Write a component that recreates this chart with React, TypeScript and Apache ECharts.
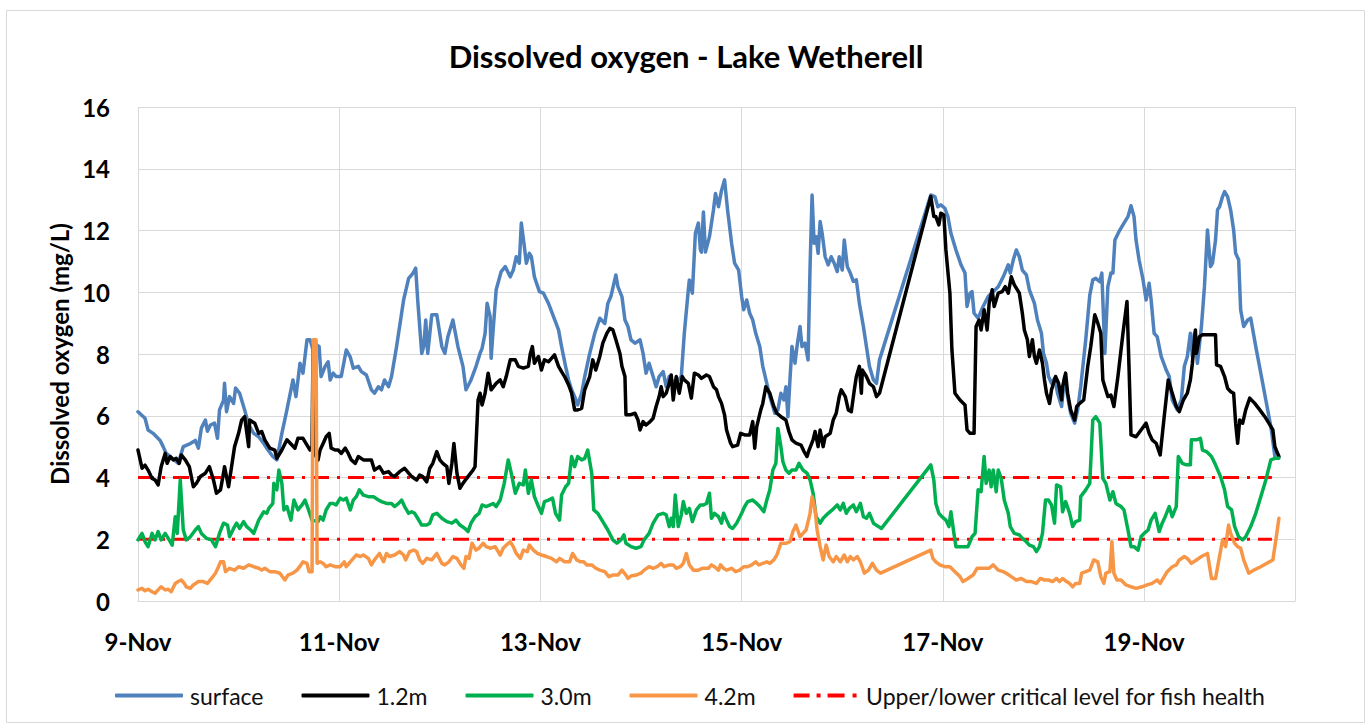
import React, { useEffect, useRef } from "react";
import * as echarts from "echarts";

// Day offsets from 9-Nov (0 = 9-Nov 00:00), values in mg/L
const surface: [number, number][] = [
  [0.00,6.13],[0.07,5.92],[0.10,5.54],[0.15,5.43],[0.22,5.2],[0.25,5.0],[0.28,4.78],[0.32,4.68],[0.40,4.46],[0.45,5.0],[0.52,5.1],[0.57,5.2],[0.60,4.95],[0.63,5.6],[0.67,5.86],[0.69,5.5],[0.72,5.7],[0.76,5.76],[0.79,5.27],[0.81,6.19],[0.85,6.5],[0.86,7.05],[0.88,6.13],[0.91,6.62],[0.95,6.4],[0.97,6.9],[1.01,6.73],[1.06,6.19],[1.10,5.7],[1.15,5.43],[1.20,5.32],[1.25,5.1],[1.29,4.9],[1.34,4.68],[1.38,4.57],[1.43,5.43],[1.48,6.19],[1.54,7.16],[1.57,6.62],[1.61,7.7],[1.64,7.38],[1.68,8.46],[1.71,8.46],[1.74,8.13],[1.77,8.3],[1.80,8.24],
  [1.82,7.27],[1.86,7.6],[1.89,7.75],[1.91,7.16],[1.94,7.38],[1.97,7.27],[2.02,7.27],[2.07,8.13],[2.11,7.9],[2.14,7.54],[2.19,7.6],[2.22,7.43],[2.27,7.32],[2.32,6.84],[2.35,6.73],[2.39,6.94],[2.42,6.84],[2.45,7.16],[2.49,6.94],[2.52,7.27],[2.57,8.24],[2.64,9.75],[2.69,10.45],[2.73,10.6],[2.76,10.78],[2.78,9.75],[2.82,8.02],[2.84,8.24],[2.86,9.1],[2.88,8.02],[2.92,9.27],[2.97,9.27],[3.02,8.24],[3.05,8.02],[3.08,8.56],[3.13,9.1],[3.18,8.24],[3.23,7.6],[3.26,6.84],[3.31,7.16],[3.36,7.6],[3.40,8.02],[3.42,8.18],[3.45,8.67],[3.47,9.64],[3.50,9.21],[3.51,7.86],[3.53,8.78],[3.56,10.08],[3.61,10.67],[3.65,10.83],[3.70,10.5],
  [3.73,10.72],[3.76,11.15],[3.79,10.94],[3.81,12.24],[3.84,11.48],[3.86,10.94],[3.89,11.26],[3.91,11.15],[3.94,10.5],[3.99,10.02],[4.03,9.97],[4.08,9.64],[4.13,9.21],[4.18,8.78],[4.21,8.24],[4.25,7.6],[4.28,7.16],[4.31,6.84],[4.34,6.62],[4.37,6.35],[4.41,6.73],[4.44,7.27],[4.49,8.02],[4.54,8.67],[4.59,9.16],[4.64,8.99],[4.67,9.64],[4.70,9.86],[4.75,10.56],[4.77,10.18],[4.81,9.86],[4.84,9.1],[4.87,8.89],[4.90,8.46],[4.94,8.35],[4.99,8.46],[5.02,8.02],[5.05,7.38],[5.08,7.7],[5.12,7.27],[5.15,6.94],[5.18,7.27],[5.22,7.43],[5.25,6.94],[5.28,7.27],[5.33,7.05],[5.37,7.16],[5.40,7.27],[5.43,8.67],[5.47,10.08],[5.48,10.4],[5.51,9.97],[5.54,11.91],[5.57,12.24],[5.59,11.37],
  [5.60,11.3],[5.62,12.6],[5.64,11.3],[5.68,11.8],[5.72,12.67],[5.74,13.2],[5.77,12.77],[5.80,13.3],[5.83,13.64],[5.86,12.67],[5.90,11.59],[5.93,10.94],[5.97,10.72],[6.00,9.86],[6.02,9.43],[6.05,9.75],[6.08,9.32],[6.11,9.1],[6.14,8.67],[6.18,8.24],[6.21,7.6],[6.25,7.05],[6.28,6.62],[6.33,6.08],[6.36,6.19],[6.39,6.73],[6.42,6.51],[6.44,6.94],[6.46,5.97],[6.48,7.16],[6.50,8.24],[6.53,7.7],[6.55,8.24],[6.58,8.89],[6.60,8.24],[6.63,8.35],[6.66,7.81],[6.68,10.83],[6.70,13.15],[6.72,11.59],[6.74,11.8],[6.76,11.26],[6.78,12.29],[6.80,11.91],[6.83,11.15],[6.86,10.89],[6.89,11.15],[6.92,10.94],[6.95,10.67],[6.97,11.15],[7.00,10.72],[7.02,11.69],[7.05,10.83],[7.08,10.62],[7.11,10.35],[7.14,10.4],[7.17,9.64],[7.21,8.89],[7.24,8.24],[7.27,7.6],[7.31,7.16],[7.34,7.05],[7.37,7.81],
  [7.88,13.15],[7.92,13.1],[7.95,12.77],[7.98,12.83],[8.02,12.72],[8.05,12.45],[8.08,11.91],[8.13,11.37],[8.18,10.89],[8.22,10.62],[8.24,9.54],[8.27,9.97],[8.29,10.02],[8.31,9.32],[8.35,9.16],[8.40,9.54],[8.45,9.86],[8.50,10.02],[8.55,10.18],[8.60,10.5],[8.65,10.89],[8.67,10.62],[8.70,11.05],[8.73,11.37],[8.76,11.15],[8.79,10.72],[8.83,10.56],[8.86,10.08],[8.91,9.64],[8.94,9.1],[8.98,8.67],[9.00,8.02],[9.03,7.7],[9.05,7.27],[9.08,7.05],[9.11,7.21],[9.14,6.73],[9.18,6.3],[9.21,7.27],[9.24,6.62],[9.27,6.08],[9.31,5.76],[9.34,6.19],[9.37,6.94],[9.42,8.46],[9.46,9.9],[9.49,10.4],[9.52,10.45],[9.56,10.34],[9.58,10.62],[9.61,8.02],[9.64,10.18],[9.67,10.62],[9.69,10.62],[9.71,11.69],[9.75,11.96],[9.80,12.24],[9.84,12.45],[9.87,12.8],[9.90,12.45],[9.92,11.69],[9.95,11.05],[9.99,10.4],[10.02,9.75],[10.05,10.29],[10.07,9.75],[10.10,8.67],[10.13,8.56],[10.17,7.92],[10.22,7.48],[10.25,7.27],[10.28,6.51],[10.33,6.19],[10.37,6.51],[10.40,7.6],[10.43,7.92],[10.46,8.67],[10.48,7.92],[10.50,8.67],[10.53,7.7],[10.57,8.89],[10.60,10.18],[10.63,12.02],[10.66,10.83],[10.68,10.94],[10.71,11.69],[10.73,12.67],[10.75,12.77],[10.78,13.1],[10.80,13.26],[10.83,13.1],[10.86,12.67],[10.89,12.02],[10.91,11.26],[10.94,11.05],[10.96,9.43],[10.99,8.89],[11.03,9.1],[11.06,9.16],[11.11,8.24],[11.16,7.38],[11.21,6.51],[11.26,5.65],[11.30,4.68]
];

const depth12: [number, number][] = [
  [0.00,4.89],[0.04,4.3],[0.07,4.4],[0.10,4.24],[0.14,3.97],[0.17,3.92],[0.20,3.76],[0.23,4.35],[0.27,4.78],[0.29,4.46],[0.32,4.68],[0.35,4.57],[0.38,4.62],[0.41,4.46],[0.43,4.73],[0.47,4.57],[0.51,4.35],[0.55,3.7],[0.58,3.81],[0.62,4.03],[0.67,4.14],[0.71,4.35],[0.75,3.92],[0.78,3.49],[0.82,3.6],[0.85,4.14],[0.86,4.35],[0.90,3.7],[0.93,4.35],[0.96,5.0],[1.00,5.43],[1.03,5.86],[1.06,5.97],[1.10,5.0],[1.11,5.86],[1.16,5.76],[1.20,5.43],[1.23,5.49],[1.26,5.22],[1.31,4.95],[1.36,4.89],[1.38,4.62],[1.43,4.89],[1.48,5.22],[1.53,5.05],[1.56,4.95],[1.59,5.27],[1.64,5.27],[1.68,5.05],[1.71,4.89],[1.73,5.0],[1.74,8.3],[1.75,4.8],[1.79,4.57],
  [1.81,4.89],[1.84,5.1],[1.87,5.32],[1.90,5.43],[1.92,4.95],[1.96,4.89],[1.99,4.89],[2.02,4.78],[2.06,4.95],[2.09,4.78],[2.12,4.57],[2.16,4.46],[2.19,4.68],[2.24,4.57],[2.29,4.57],[2.32,4.57],[2.35,4.24],[2.40,4.35],[2.44,4.14],[2.49,4.19],[2.52,4.08],[2.55,4.03],[2.60,4.19],[2.65,4.3],[2.69,4.14],[2.72,4.03],[2.77,3.92],[2.80,4.08],[2.83,4.03],[2.87,3.86],[2.90,4.3],[2.93,4.46],[2.97,4.84],[3.00,4.57],[3.03,4.46],[3.07,4.35],[3.09,3.81],[3.12,4.46],[3.14,5.1],[3.17,4.14],[3.20,3.65],[3.23,3.81],[3.28,4.03],[3.33,4.24],[3.35,4.35],[3.38,6.51],[3.40,6.73],[3.42,6.35],[3.45,6.73],[3.48,7.38],[3.51,6.84],[3.56,7.05],[3.60,7.16],[3.63,6.94],[3.66,7.27],[3.70,7.81],
  [3.75,7.81],[3.78,7.6],[3.83,7.54],[3.88,7.6],[3.90,8.02],[3.92,8.24],[3.94,7.7],[3.98,7.92],[4.01,7.48],[4.04,7.81],[4.08,7.75],[4.11,7.86],[4.14,7.97],[4.18,7.6],[4.21,7.43],[4.24,7.27],[4.28,7.0],[4.31,6.73],[4.34,6.19],[4.37,6.19],[4.41,6.24],[4.44,6.84],[4.49,7.27],[4.52,7.81],[4.55,7.48],[4.59,7.92],[4.62,8.35],[4.66,8.67],[4.69,8.83],[4.72,8.78],[4.75,8.46],[4.79,8.02],[4.81,7.6],[4.84,7.27],[4.85,6.03],[4.89,6.03],[4.94,6.08],[4.97,5.86],[4.99,5.54],[5.02,5.81],[5.05,5.7],[5.09,5.81],[5.12,5.92],[5.15,6.3],[5.18,6.62],[5.20,6.94],[5.22,6.62],[5.25,6.73],[5.28,7.05],[5.30,7.32],[5.32,6.51],[5.35,7.27],[5.38,6.73],[5.41,7.27],[5.43,7.16],[5.47,7.05],[5.50,6.57],[5.53,7.38],[5.57,7.32],[5.60,7.21],
  [5.65,7.32],[5.68,7.27],[5.72,6.94],[5.75,6.84],[5.77,6.62],[5.80,6.4],[5.83,6.03],[5.85,5.54],[5.89,5.11],[5.91,5.0],[5.96,5.05],[5.99,5.43],[6.03,5.38],[6.08,5.38],[6.11,5.81],[6.13,4.95],[6.15,5.65],[6.19,6.19],[6.21,6.4],[6.24,6.94],[6.28,6.73],[6.32,6.3],[6.35,6.08],[6.39,5.97],[6.44,5.86],[6.47,5.49],[6.50,5.22],[6.54,5.11],[6.59,5.05],[6.62,4.84],[6.65,4.68],[6.67,4.89],[6.71,5.22],[6.73,5.49],[6.76,5.0],[6.78,5.54],[6.81,5.0],[6.83,5.32],[6.88,5.43],[6.91,5.86],[6.94,6.08],[6.97,6.62],[6.99,6.84],[7.03,6.62],[7.06,6.19],[7.09,6.13],[7.12,6.84],[7.14,7.27],[7.17,7.6],[7.19,6.73],[7.20,7.48],[7.24,7.27],[7.27,7.05],[7.31,6.94],[7.34,6.62],[7.37,6.73],
  [7.88,13.1],[7.91,12.45],[7.93,12.45],[7.96,12.18],[7.98,12.56],[8.01,12.5],[8.03,11.37],[8.07,9.97],[8.09,8.13],[8.12,6.73],[8.17,6.51],[8.22,6.35],[8.24,5.54],[8.27,5.43],[8.31,5.43],[8.33,8.89],[8.36,9.1],[8.38,8.78],[8.41,9.43],[8.44,8.78],[8.46,9.64],[8.49,10.08],[8.51,9.54],[8.55,9.97],[8.59,10.02],[8.62,10.18],[8.65,9.97],[8.68,10.5],[8.71,10.24],[8.76,9.97],[8.79,9.32],[8.81,8.78],[8.84,8.46],[8.86,7.92],[8.89,8.46],[8.91,7.92],[8.93,7.7],[8.96,8.13],[8.99,7.7],[9.01,7.16],[9.03,6.73],[9.06,6.4],[9.08,6.84],[9.12,7.27],[9.15,7.05],[9.18,6.51],[9.19,6.94],[9.22,7.38],[9.24,6.73],[9.27,6.19],[9.31,5.86],[9.33,6.3],[9.36,6.4],
  [9.40,6.51],[9.44,7.6],[9.47,8.24],[9.51,9.27],[9.54,9.0],[9.57,8.67],[9.59,7.16],[9.61,6.94],[9.64,6.62],[9.67,6.67],[9.70,6.3],[9.74,7.27],[9.79,8.67],[9.83,9.7],[9.85,7.6],[9.87,5.38],[9.92,5.32],[9.97,5.54],[10.02,5.76],[10.05,5.43],[10.08,5.22],[10.12,5.11],[10.16,4.73],[10.20,5.97],[10.24,7.16],[10.28,6.73],[10.32,6.3],[10.35,6.13],[10.39,6.51],[10.43,6.73],[10.46,7.16],[10.48,7.7],[10.51,8.78],[10.52,8.02],[10.55,8.56],[10.58,8.62],[10.63,8.62],[10.68,8.62],[10.71,8.62],[10.72,7.65],[10.76,7.6],[10.80,7.27],[10.83,6.89],[10.86,6.78],[10.89,6.73],[10.91,5.76],[10.93,5.11],[10.95,5.86],[10.98,5.76],[11.01,6.19],[11.05,6.57],[11.10,6.4],[11.15,6.19],[11.20,5.97],[11.24,5.76],[11.28,5.54],[11.30,5.0],[11.34,4.68]
];

const depth30: [number, number][] = [
  [0.00,1.98],[0.04,2.19],[0.07,1.92],[0.10,1.76],[0.14,2.19],[0.17,1.98],[0.20,2.25],[0.23,1.98],[0.27,2.19],[0.31,1.98],[0.34,1.81],[0.37,2.73],[0.39,2.19],[0.42,3.92],[0.45,2.3],[0.48,1.98],[0.52,2.08],[0.57,2.3],[0.60,2.41],[0.63,2.19],[0.68,2.03],[0.73,1.98],[0.77,1.76],[0.81,2.19],[0.85,2.52],[0.89,2.46],[0.91,2.08],[0.95,2.35],[0.98,2.52],[1.01,2.35],[1.05,2.57],[1.08,2.41],[1.12,2.3],[1.15,2.19],[1.20,2.62],[1.25,2.89],[1.28,2.84],[1.30,3.0],[1.34,3.16],[1.35,3.81],[1.38,3.6],[1.40,4.24],[1.43,3.81],[1.45,2.95],[1.48,3.06],[1.52,2.62],[1.55,3.27],[1.59,2.95],[1.63,3.11],[1.66,3.27],[1.69,3.0],[1.73,2.62],[1.79,2.57],
  [1.81,2.73],[1.84,2.62],[1.87,2.95],[1.91,3.16],[1.94,3.16],[1.97,3.11],[2.01,3.33],[2.04,3.27],[2.07,3.33],[2.11,2.95],[2.14,3.27],[2.17,3.38],[2.20,3.6],[2.24,3.43],[2.29,3.38],[2.34,3.38],[2.39,3.27],[2.42,3.22],[2.47,3.16],[2.52,3.16],[2.55,3.06],[2.59,3.16],[2.62,3.27],[2.65,3.06],[2.69,2.84],[2.72,2.89],[2.75,2.84],[2.78,2.68],[2.82,2.46],[2.87,2.46],[2.90,2.52],[2.93,2.79],[2.97,2.84],[3.02,2.68],[3.07,2.57],[3.12,2.52],[3.16,2.62],[3.20,2.46],[3.25,2.35],[3.28,2.25],[3.31,2.52],[3.35,2.73],[3.39,2.84],[3.42,3.11],[3.46,3.06],[3.50,3.11],[3.53,3.16],[3.56,3.06],[3.60,3.27],[3.64,3.81],[3.68,4.57],[3.71,4.14],
  [3.75,3.49],[3.79,3.81],[3.83,3.76],[3.85,4.24],[3.88,3.49],[3.91,3.92],[3.94,3.38],[3.98,3.06],[4.01,2.84],[4.04,3.22],[4.08,3.27],[4.12,3.33],[4.15,2.84],[4.19,2.62],[4.21,3.43],[4.25,3.7],[4.28,3.81],[4.31,4.68],[4.34,4.35],[4.37,4.68],[4.41,4.57],[4.44,4.62],[4.47,4.89],[4.51,4.14],[4.53,2.95],[4.57,2.84],[4.62,2.57],[4.67,2.3],[4.72,1.98],[4.76,1.87],[4.80,1.98],[4.83,2.14],[4.85,1.87],[4.90,1.76],[4.95,1.71],[5.00,1.76],[5.03,1.98],[5.08,2.19],[5.12,2.52],[5.17,2.79],[5.22,2.84],[5.25,2.79],[5.28,2.41],[5.30,2.68],[5.32,2.41],[5.34,3.43],[5.37,2.41],[5.40,2.79],[5.42,3.22],[5.45,2.84],[5.48,3.0],[5.51,2.57],[5.55,2.95],[5.59,3.11],
  [5.62,3.11],[5.65,3.16],[5.68,3.49],[5.70,2.68],[5.73,2.84],[5.77,2.73],[5.80,2.52],[5.82,2.84],[5.85,2.62],[5.88,2.41],[5.91,2.35],[5.95,2.52],[6.00,2.84],[6.03,3.06],[6.06,3.22],[6.11,3.27],[6.15,3.16],[6.18,3.06],[6.22,2.89],[6.25,3.27],[6.28,3.6],[6.31,4.24],[6.34,4.46],[6.36,5.59],[6.39,5.0],[6.41,4.51],[6.44,4.24],[6.47,4.14],[6.50,4.24],[6.54,4.24],[6.57,4.46],[6.61,4.24],[6.65,4.14],[6.68,3.92],[6.71,3.49],[6.74,2.73],[6.78,2.52],[6.81,2.68],[6.86,2.84],[6.90,2.95],[6.95,3.11],[6.98,2.95],[7.01,3.16],[7.04,2.84],[7.07,3.0],[7.11,3.11],[7.14,2.89],[7.18,3.16],[7.21,2.73],[7.24,2.68],[7.27,2.84],[7.31,2.52],[7.36,2.41],[7.39,2.35],
  [7.88,4.41],[7.91,3.92],[7.93,3.16],[7.96,2.84],[7.99,2.73],[8.03,2.62],[8.06,2.41],[8.08,2.89],[8.11,2.19],[8.13,1.76],[8.18,1.76],[8.25,1.76],[8.29,2.08],[8.32,2.19],[8.35,3.6],[8.38,3.54],[8.41,4.68],[8.43,3.81],[8.46,4.24],[8.48,3.7],[8.50,4.24],[8.53,3.54],[8.55,4.24],[8.58,3.97],[8.61,3.27],[8.65,2.84],[8.67,2.41],[8.71,2.19],[8.76,2.14],[8.79,2.03],[8.83,1.92],[8.86,1.81],[8.90,1.76],[8.93,1.6],[8.96,1.76],[8.99,2.19],[9.02,3.27],[9.05,3.27],[9.08,3.11],[9.11,2.52],[9.13,3.76],[9.17,3.7],[9.19,2.89],[9.22,3.22],[9.26,2.84],[9.29,2.41],[9.32,2.57],[9.36,2.62],[9.37,3.38],[9.42,3.6],[9.46,3.81],[9.49,5.86],[9.52,5.97],[9.56,5.76],[9.59,3.97],[9.62,3.81],[9.66,3.27],[9.69,3.54],[9.72,3.16],[9.77,3.06],[9.80,2.95],[9.84,2.3],[9.87,1.76],[9.90,1.76],[9.94,1.65],[9.97,2.08],[10.00,2.19],[10.04,2.3],[10.07,2.62],[10.11,2.84],[10.15,2.25],[10.18,2.52],[10.21,2.73],[10.25,3.06],[10.28,2.73],[10.32,3.06],[10.34,4.68],[10.38,4.46],[10.42,4.41],[10.46,4.41],[10.47,5.22],[10.52,5.22],[10.56,5.27],[10.58,4.89],[10.62,4.84],[10.67,4.68],[10.71,4.41],[10.76,4.03],[10.80,3.6],[10.83,3.06],[10.87,2.95],[10.90,2.41],[10.94,2.08],[10.98,1.98],[11.01,2.08],[11.06,2.41],[11.11,2.84],[11.16,3.38],[11.21,3.92],[11.26,4.57],[11.30,4.62],[11.34,4.62]
];

const depth42: [number, number][] = [
  [0.00,0.36],[0.04,0.41],[0.07,0.33],[0.10,0.38],[0.14,0.3],[0.17,0.25],[0.20,0.36],[0.23,0.46],[0.27,0.36],[0.30,0.38],[0.33,0.3],[0.37,0.57],[0.40,0.63],[0.43,0.68],[0.46,0.57],[0.48,0.46],[0.52,0.41],[0.55,0.52],[0.60,0.63],[0.65,0.63],[0.69,0.57],[0.73,0.73],[0.77,0.9],[0.80,1.11],[0.82,1.27],[0.85,1.27],[0.87,0.95],[0.91,1.06],[0.96,1.0],[1.00,1.11],[1.05,1.06],[1.10,1.17],[1.15,1.11],[1.20,1.06],[1.23,1.0],[1.26,1.06],[1.31,0.95],[1.36,0.95],[1.41,0.9],[1.46,0.68],[1.49,0.84],[1.54,0.9],[1.58,1.0],[1.62,1.17],[1.64,1.27],[1.68,1.22],[1.70,0.95],[1.73,0.95],[1.74,8.46],[1.77,8.46],[1.78,1.22],
  [1.81,1.27],[1.84,1.22],[1.87,1.11],[1.91,1.17],[1.96,1.11],[2.01,1.11],[2.05,1.27],[2.07,1.11],[2.11,1.27],[2.14,1.38],[2.17,1.49],[2.21,1.44],[2.24,1.49],[2.29,1.38],[2.32,1.17],[2.35,1.33],[2.40,1.54],[2.44,1.27],[2.47,1.54],[2.50,1.44],[2.55,1.49],[2.60,1.6],[2.64,1.49],[2.66,1.33],[2.70,1.6],[2.74,1.65],[2.77,1.6],[2.80,1.33],[2.83,1.22],[2.87,1.38],[2.92,1.33],[2.97,1.54],[3.02,1.22],[3.05,1.17],[3.09,1.27],[3.13,1.44],[3.17,1.38],[3.21,1.17],[3.24,1.06],[3.26,1.44],[3.29,1.38],[3.32,1.87],[3.36,1.65],[3.39,1.71],[3.43,1.87],[3.46,1.76],[3.50,1.71],[3.55,1.76],[3.60,1.49],[3.63,1.71],[3.66,1.81],[3.70,1.92],
  [3.73,1.76],[3.76,1.54],[3.80,1.38],[3.83,1.65],[3.87,1.6],[3.89,1.81],[3.93,1.65],[3.97,1.54],[4.01,1.49],[4.06,1.44],[4.11,1.38],[4.16,1.27],[4.19,1.38],[4.24,1.27],[4.29,1.27],[4.32,1.54],[4.36,1.33],[4.40,1.27],[4.43,1.27],[4.46,1.17],[4.51,1.17],[4.55,1.06],[4.59,1.0],[4.64,0.95],[4.68,0.79],[4.72,0.84],[4.77,0.84],[4.81,1.0],[4.85,0.84],[4.87,0.73],[4.90,0.81],[4.95,0.84],[5.00,0.9],[5.03,1.0],[5.08,1.11],[5.12,1.06],[5.16,1.11],[5.20,1.22],[5.23,1.11],[5.28,1.17],[5.32,1.17],[5.35,1.06],[5.39,1.11],[5.42,1.22],[5.45,1.54],[5.48,1.17],[5.52,1.0],[5.57,1.0],[5.61,1.06],
  [5.67,1.06],[5.70,1.17],[5.73,1.11],[5.77,1.0],[5.79,1.17],[5.82,1.06],[5.85,1.0],[5.90,1.06],[5.94,0.95],[5.98,1.0],[6.02,1.11],[6.06,1.11],[6.10,1.17],[6.14,1.27],[6.17,1.17],[6.21,1.22],[6.25,1.27],[6.28,1.22],[6.32,1.33],[6.35,1.49],[6.39,1.87],[6.44,1.87],[6.48,1.92],[6.51,2.25],[6.54,2.46],[6.58,2.08],[6.61,2.19],[6.64,2.3],[6.68,2.84],[6.70,3.38],[6.73,2.95],[6.75,2.3],[6.78,1.76],[6.81,1.33],[6.84,1.81],[6.87,1.44],[6.91,1.27],[6.94,1.44],[6.98,1.27],[7.02,1.49],[7.05,1.27],[7.08,1.44],[7.11,1.33],[7.15,1.44],[7.18,1.27],[7.22,0.9],[7.26,1.0],[7.30,1.22],[7.34,1.0],[7.38,0.9],
  [7.88,1.65],[7.90,1.38],[7.93,1.27],[7.97,1.17],[8.02,1.11],[8.07,1.11],[8.12,0.95],[8.17,0.79],[8.20,0.63],[8.25,0.73],[8.30,0.84],[8.34,1.06],[8.38,1.06],[8.43,1.06],[8.46,1.06],[8.50,1.17],[8.55,1.0],[8.60,0.95],[8.63,0.9],[8.68,0.79],[8.73,0.68],[8.78,0.73],[8.83,0.63],[8.88,0.63],[8.93,0.57],[8.97,0.73],[9.01,0.68],[9.05,0.68],[9.09,0.63],[9.13,0.73],[9.16,0.63],[9.19,0.73],[9.23,0.63],[9.26,0.57],[9.29,0.46],[9.32,0.57],[9.36,0.57],[9.38,0.9],[9.42,0.95],[9.46,1.0],[9.50,1.33],[9.54,1.27],[9.57,0.79],[9.60,0.57],[9.62,0.9],[9.66,0.95],[9.68,1.92],[9.70,0.9],[9.73,0.68],[9.77,0.68],[9.82,0.52],[9.87,0.46],[9.92,0.41],[9.98,0.46],[10.03,0.52],[10.08,0.57],[10.13,0.68],[10.16,0.57],[10.20,0.79],[10.23,0.95],[10.28,1.11],[10.32,1.17],[10.35,1.33],[10.40,1.44],[10.43,1.38],[10.47,1.22],[10.52,1.33],[10.57,1.44],[10.63,1.54],[10.67,0.73],[10.71,0.73],[10.75,1.44],[10.78,1.98],[10.81,1.76],[10.84,2.46],[10.86,2.19],[10.90,1.87],[10.93,1.76],[10.96,1.71],[10.99,1.33],[11.04,0.9],[11.09,1.0],[11.16,1.11],[11.22,1.22],[11.28,1.33],[11.31,1.98],[11.34,2.68]
];

const criticalUpper: [number, number][] = [[0, 4], [11.27, 4]];
const criticalLower: [number, number][] = [[0, 2], [11.27, 2]];

const startDay = 9;
const monthLabel = "Nov";
const yTicks = { min: 0, max: 16, interval: 2 };
const xRange = { min: 0, max: 11.5, interval: 2 };

const FONT = "Lato";
const CRIT_NAME = "Upper/lower critical level for fish health";

export default function App() {
  const ref = useRef<HTMLDivElement>(null);
  useEffect(() => {
    if (!ref.current) return;
    const chart = echarts.init(ref.current, undefined, { renderer: "svg" });
    const lineSeries = (name: string, data: [number, number][], color: string) => ({
      name,
      type: "line",
      data,
      symbol: "none",
      lineStyle: { color, width: 3.5, cap: "round", join: "round" },
      itemStyle: { color },
      z: 3,
    });
    const critStyle = { color: "#FF0000", width: 3, type: [16, 8, 3, 8] as number[] };
    chart.setOption({
      animation: false,
      backgroundColor: "#fff",
      graphic: [
        {
          type: "rect",
          shape: { x: 6.5, y: 10.5, width: 1358, height: 712 },
          style: { fill: "none", stroke: "#d9d9d9", lineWidth: 1 },
          silent: true,
        },
      ],
      title: {
        text: "Dissolved oxygen - Lake Wetherell",
        left: "center",
        top: 35,
        textStyle: { fontFamily: FONT, fontWeight: "bold", fontSize: 31, color: "#000" },
      },
      legend: {
        left: 110,
        top: 679,
        itemWidth: 68,
        itemHeight: 4,
        itemGap: 38,
        textStyle: { fontFamily: FONT, fontSize: 23, color: "#111", padding: [0, 0, 0, 2] },
        data: [
          { name: "surface", icon: "roundRect" },
          { name: "1.2m", icon: "roundRect" },
          { name: "3.0m", icon: "roundRect" },
          { name: "4.2m", icon: "roundRect" },
          {
            name: CRIT_NAME,
            icon: "path://M0,0h16v4h-16z M23,0h4v4h-4z M34,0h17v4h-17z M59,0h4v4h-4z",
          },
        ],
      },
      grid: { left: 138, right: 77, top: 107, bottom: 125, containLabel: false },
      xAxis: {
        type: "value",
        min: xRange.min,
        max: xRange.max,
        interval: xRange.interval,
        axisLine: { show: true, lineStyle: { color: "#d9d9d9", width: 1 } },
        axisTick: { show: false },
        splitLine: { show: true, lineStyle: { color: "#d9d9d9", width: 1 } },
        axisLabel: {
          margin: 28,
          fontFamily: FONT,
          fontWeight: "bold",
          fontSize: 24,
          color: "#000",
          showMaxLabel: false,
          formatter: (v: number) => (Number.isInteger(v) ? `${startDay + v}-${monthLabel}` : ""),
        },
      },
      yAxis: {
        type: "value",
        min: yTicks.min,
        max: yTicks.max,
        interval: yTicks.interval,
        name: "Dissolved oxygen (mg/L)",
        nameLocation: "middle",
        nameGap: 66,
        nameTextStyle: { fontFamily: FONT, fontWeight: "bold", fontSize: 24, color: "#000" },
        axisLine: { show: false },
        axisTick: { show: false },
        splitLine: { show: true, lineStyle: { color: "#d9d9d9", width: 1 } },
        axisLabel: { margin: 28, fontFamily: FONT, fontWeight: "bold", fontSize: 24, color: "#000" },
      },
      series: [
        {
          name: CRIT_NAME,
          type: "line",
          data: criticalUpper,
          symbol: "none",
          lineStyle: critStyle,
          itemStyle: { color: "#FF0000" },
          z: 2,
        },
        {
          name: CRIT_NAME,
          type: "line",
          data: criticalLower,
          symbol: "none",
          lineStyle: critStyle,
          itemStyle: { color: "#FF0000" },
          z: 2,
        },
        lineSeries("surface", surface, "#4F81BD"),
        lineSeries("1.2m", depth12, "#000000"),
        lineSeries("3.0m", depth30, "#00B050"),
        lineSeries("4.2m", depth42, "#F79646"),
      ],
    });
    return () => chart.dispose();
  }, []);
  return (
    <div
      ref={ref}
      style={{ position: "absolute", left: 0, top: 0, width: 1372, height: 726 }}
    />
  );
}
